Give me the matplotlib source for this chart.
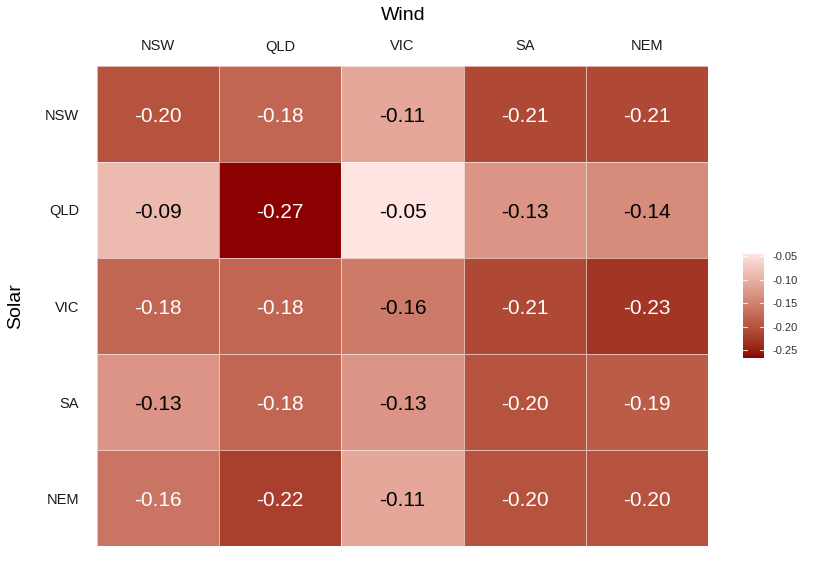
import numpy as np
import matplotlib
matplotlib.use("Agg")
import matplotlib.pyplot as plt
from matplotlib.colors import ListedColormap, Normalize

wind = ["NSW", "QLD", "VIC", "SA", "NEM"]
solar = ["NSW", "QLD", "VIC", "SA", "NEM"]
values = [
    [-0.20, -0.18, -0.11, -0.21, -0.21],
    [-0.09, -0.266, -0.046, -0.13, -0.14],
    [-0.18, -0.18, -0.157, -0.21, -0.23],
    [-0.13, -0.18, -0.13, -0.20, -0.19],
    [-0.163, -0.22, -0.11, -0.20, -0.20],
]
cbar_ticks = [-0.25, -0.20, -0.15, -0.10, -0.05]

# ---- Lab interpolation between darkred and mistyrose (ggplot-like gradient)
def srgb_to_lin(c):
    c = np.asarray(c, float)
    return np.where(c <= 0.04045, c / 12.92, ((c + 0.055) / 1.055) ** 2.4)

def lin_to_srgb(c):
    c = np.clip(c, 0, 1)
    return np.where(c <= 0.0031308, c * 12.92, 1.055 * c ** (1 / 2.4) - 0.055)

M = np.array([[0.4124, 0.3576, 0.1805], [0.2126, 0.7152, 0.0722], [0.0193, 0.1192, 0.9505]])
Minv = np.linalg.inv(M)
wp = np.array([0.95047, 1.0, 1.08883])

def f(t):
    d = 6 / 29
    return np.where(t > d ** 3, np.cbrt(t), t / (3 * d * d) + 4 / 29)

def finv(t):
    d = 6 / 29
    return np.where(t > d, t ** 3, 3 * d * d * (t - 4 / 29))

def rgb_to_lab(rgb):
    xyz = M @ srgb_to_lin(rgb) / wp
    fx, fy, fz = f(xyz)
    return np.array([116 * fy - 16, 500 * (fx - fy), 200 * (fy - fz)])

def lab_to_rgb(lab):
    L, a, b = lab
    fy = (L + 16) / 116
    fx = fy + a / 500
    fz = fy - b / 200
    xyz = np.array([finv(fx), finv(fy), finv(fz)]) * wp
    return lin_to_srgb(Minv @ xyz)

low = rgb_to_lab(np.array([0x8B, 0x00, 0x00]) / 255)
high = rgb_to_lab(np.array([0xFF, 0xE4, 0xE1]) / 255)
cols = [lab_to_rgb(low + (high - low) * t) for t in np.linspace(0, 1, 256)]
cmap = ListedColormap(np.clip(cols, 0, 1))

vals = np.array(values)
vmin, vmax = vals.min(), vals.max()
norm = Normalize(vmin=vmin, vmax=vmax)

plt.rcParams["font.family"] = ["Liberation Sans", "DejaVu Sans"]

fig = plt.figure(figsize=(8.2, 5.64), dpi=100)
W, H = 820, 564
ax = fig.add_axes([97 / W, 1 - 546 / H, (708 - 97) / W, (546 - 66) / H])
ax.pcolormesh(np.arange(6), np.arange(6), vals, cmap=cmap, norm=norm,
              edgecolor=(1, 1, 1, 0.6), linewidth=0.6)
ax.set_xlim(0, 5)
ax.set_ylim(5, 0)
for i in range(5):
    for j in range(5):
        v = vals[i, j]
        ax.text(j + 0.5, i + 0.5, f"{v:.2f}", ha="center", va="center_baseline",
                fontsize=15, color="white" if v < -0.16 else "black")
ax.xaxis.tick_top()
ax.set_xticks(np.arange(5) + 0.5)
ax.set_xticklabels(wind)
ax.set_yticks(np.arange(5) + 0.5)
ax.set_yticklabels(solar)
ax.tick_params(length=0, labelsize=10.5, colors="#1a1a1a")
ax.tick_params(axis="x", pad=9)
ax.tick_params(axis="y", pad=13)
for s in ax.spines.values():
    s.set_visible(False)

fig.text(403 / W, 1 - 13 / H, "Wind", fontsize=14, ha="center", va="center_baseline")
fig.text(16 / W, 1 - 306 / H, "Solar", fontsize=14, ha="center", va="center",
         rotation=90)

cax = fig.add_axes([743 / W, 1 - 358 / H, 21 / W, 104 / H])
grad = np.linspace(vmin, vmax, 256).reshape(-1, 1)
cax.imshow(grad, aspect="auto", origin="lower", cmap=cmap, norm=norm,
           extent=[0, 1, vmin, vmax])
for t in cbar_ticks:
    cax.plot([0, 0.2], [t, t], color="white", lw=0.8, alpha=0.8)
    cax.plot([0.8, 1], [t, t], color="white", lw=0.8, alpha=0.8)
cax.set_xlim(0, 1)
cax.set_ylim(vmin, vmax)
cax.set_xticks([])
cax.yaxis.tick_right()
cax.set_yticks(cbar_ticks)
cax.set_yticklabels([f"{t:.2f}" for t in cbar_ticks])
cax.tick_params(length=0, labelsize=8, pad=6, colors="#333333")
for s in cax.spines.values():
    s.set_visible(False)

fig.savefig("out.png", dpi=100)
